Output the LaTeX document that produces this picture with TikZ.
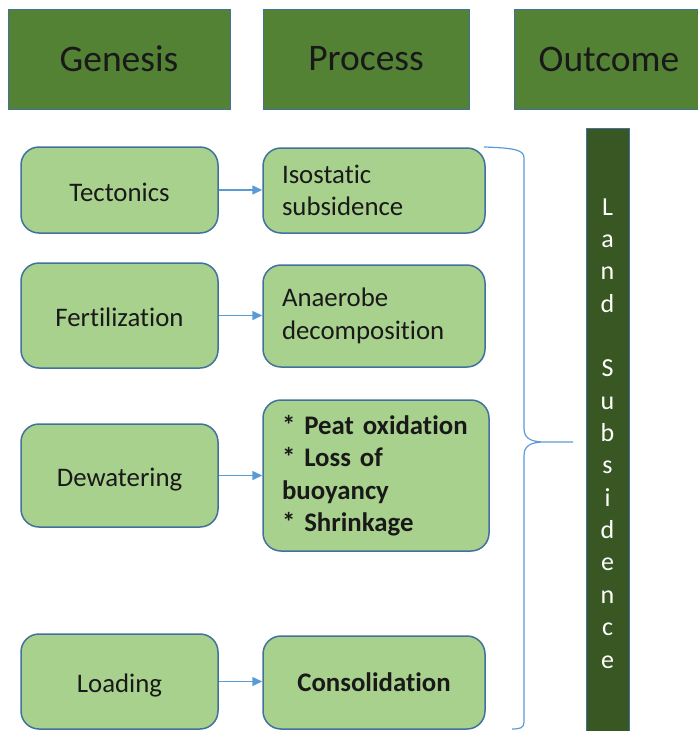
\documentclass[tikz,border=0pt]{standalone}
\usepackage{fontspec}
\setmainfont[Ligatures={NoCommon}]{Carlito}
\usetikzlibrary{arrows.meta}
\usetikzlibrary{positioning}

\definecolor{headgreen}{HTML}{548235}
\definecolor{boxgreen}{HTML}{A9D18E}
\definecolor{bargreen}{HTML}{385723}
\definecolor{edgeblue}{HTML}{41719C}
\definecolor{arrowblue}{HTML}{5B9BD5}

\tikzset{
  header/.style={draw=edgeblue, line width=1pt, fill=headgreen, inner sep=0pt,
    minimum height=100pt, font=\fontsize{37.5}{45}\selectfont, text=black!90},
  genbox/.style={draw=edgeblue, line width=1.5pt, fill=boxgreen, rounded corners=18pt,
    inner sep=0pt, minimum width=197pt, font=\fontsize{26.8}{32}\selectfont,
    text=black!90, text height=22pt, text depth=0pt},
  procbox/.style={draw=edgeblue, line width=1.5pt, fill=boxgreen, rounded corners=18pt,
    inner xsep=19pt, inner ysep=0pt, text width=184pt, align=left,
    font=\fontsize{26.8}{32.4}\selectfont, text=black!90},
  flow/.style={draw=arrowblue, line width=1.5pt, -{Triangle[length=10pt,width=9pt]}},
  bracket/.style={draw=arrowblue, line width=1.2pt},
  letter/.style={anchor=base, inner sep=0pt, text=white, font=\fontsize{26}{32}\selectfont}
}

\begin{document}
\begin{tikzpicture}[x=1pt, y=-1pt]
\useasboundingbox (0,0) rectangle (697,731);

% Column headers
\node[header, minimum width=222pt] (genesis) at (119,59) {Genesis};
\node[header, minimum width=206pt] (process) at (366,59) {Process};
\node[header, minimum width=190pt] (outcome) at (609,59) {Outcome};

% Genesis column
\node[genbox, minimum height=86pt]  (tec) at (119.5,190)   {Tectonics};
\node[genbox, minimum height=105pt] (fer) at (119.5,315.5) {Fertilization};
\node[genbox, minimum height=103pt] (dew) at (119.5,475.5) {Dewatering};
\node[genbox, minimum height=95pt]  (loa) at (119.5,681.5) {Loading};

% Process column
\node[procbox, minimum height=85pt]  (iso) at (374,190.5) {Isostatic\\subsidence};
\node[procbox, minimum height=102pt] (ana) at (374,316)   {Anaerobe\\decomposition};
\node[procbox, minimum height=151pt, text width=188pt, font=\fontsize{26.8}{32.4}\selectfont\bfseries]
  (peat) at (376,475.5) {{*} Peat oxidation\\{*} Loss of\\buoyancy\\{*} Shrinkage};
\node[procbox, minimum height=93pt, align=center, font=\fontsize{26.8}{32.4}\selectfont\bfseries]
  (con) at (374,682.5) {Consolidation};

% Arrows from genesis to process
\foreach \a/\b in {tec/iso, fer/ana, dew/peat, loa/con} {
    \draw[flow] (\a.east) -- (\a.east -| \b.west);
}

% Bracket gathering the processes
\coordinate (brtop) at (484,147);
\coordinate (brtip) at (573,442);
\coordinate (brbot) at (512,729);
\draw[bracket] (brtop) .. controls (515,148) and (524,150) .. (524,158)
  -- (524,428) .. controls (524,438) and (530,442) .. (545,442) -- (brtip)
  -- (545,442) .. controls (530,442) and (524,446) .. (524,456)
  -- (524,722) .. controls (524,728) and (520,729) .. (brbot);

% Outcome bar
\node[draw=edgeblue, line width=1pt, fill=bargreen, inner sep=0pt,
  minimum width=43pt, minimum height=605pt] (landbar) at (607.5,430.5) {};
\foreach \ch/\row in {L/0, a/1, n/2, d/3, S/5, u/6, b/7, s/8, i/9, d/10, e/11, n/12, c/13, e/14} {
    \node[letter] (ltr\row) at (607.5, 215+\row*32.36) {\ch};
}
\end{tikzpicture}
\end{document}
